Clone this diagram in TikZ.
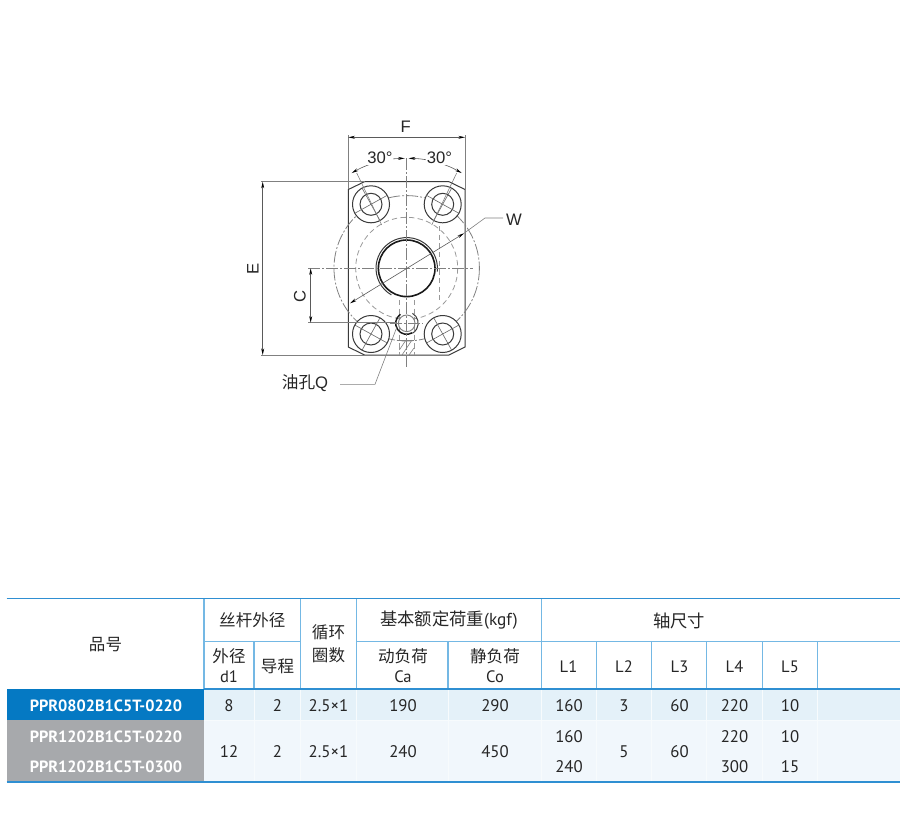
\documentclass[tikz,border=0pt]{standalone}
\usepackage{fontspec}
\setmainfont{PT Sans}
\newfontfamily\cjk{Noto Sans CJK SC}
\newfontfamily\dimfont{Liberation Sans}
\usetikzlibrary{arrows.meta,calc}
\definecolor{linedark}{HTML}{3A3A3A}
\definecolor{linegray}{HTML}{808080}
\definecolor{ruleblue}{HTML}{2F8FD2}
\definecolor{cellblue}{HTML}{0579C3}
\definecolor{cellgray}{HTML}{A7A9AC}
\definecolor{rowone}{HTML}{E4F1F9}
\definecolor{rowtwo}{HTML}{F1F7FC}
\definecolor{sepblue}{HTML}{74B8E4}
\tikzset{
	outline/.style={line width=0.75pt, color=linedark},
	thinline/.style={line width=0.45pt, color=linegray},
	hidden/.style={line width=0.6pt, color=linegray!80, dash pattern=on 4pt off 2.5pt},
	centerline/.style={line width=0.6pt, color=linegray, dash pattern=on 9pt off 1.5pt on 1.5pt off 1.5pt},
	dimline/.style={line width=0.45pt, color=linegray!70!black, {Stealth[length=5pt,width=2.2pt,color=black]}-{Stealth[length=5pt,width=2.2pt,color=black]}},
	dimtext/.style={font=\dimfont\fontsize{12.5}{14}\selectfont, text=black!85},
	headtext/.style={font=\fontsize{12.4}{15}\selectfont, text=black!85, align=center, inner sep=0pt},
	celltext/.style={font=\fontsize{12.6}{15}\selectfont, text=black!85, inner sep=0pt},
	codetext/.style={font=\fontsize{12.2}{15}\selectfont\bfseries, text=white, inner sep=0pt},
	sepline/.style={line width=1pt, color=sepblue},
	faintline/.style={line width=0.6pt, color=white!70!rowone},
}
\def\boltseat(#1,#2)[#3]{
	\draw[outline, fill=white] (#1, #2) circle (18.5);
	\draw[outline] (#1, #2) circle (11);
	\draw[thinline, color=linegray!80!black] ($(#1, #2)+(#3:19)$) -- ($(#1, #2)+(#3+180:19)$);
	\draw[thinline, color=linegray!80!black] ($(#1, #2)+(#3+90:19)$) -- ($(#1, #2)+(#3+270:19)$);
}
\begin{document}
\begin{tikzpicture}[x=0.75pt, y=-0.75pt]
	%%%%% FRAME %%%%%
	\useasboundingbox (0, 0) rectangle (900, 828);

	\coordinate (hub) at (406.7, 268.3);
	\coordinate (oilhole) at (406.7, 323.3);

	%%%%% PLATE %%%%%
	\draw[outline] (364.5, 181.7) -- (449, 181.7) -- (465, 189.5) -- (465, 347) -- (449, 355) -- (364.5, 355) -- (348.3, 347) -- (348.3, 189.5) -- cycle;

	\draw[hidden] (hub) circle (51);
	\draw[centerline] (hub) circle (72.7);
	\draw[hidden] (439.3, 226) -- (439.3, 300);
	\draw[hidden] (399.3, 300) -- (399.3, 355);
	\draw[hidden] (414, 300) -- (414, 355);
	\draw[thinline] (399.3, 340) -- (414, 340);
	\draw[thinline] (399.3, 350) -- (406, 340);
	\draw[thinline] (402, 355) -- (412, 340);
	\draw[thinline] (409, 355) -- (414, 348);

	%%%%% BOLTS %%%%%
	\boltseat(371, 204.3)[-29]
	\boltseat(442.7, 204.3)[29]
	\boltseat(371, 334)[29]
	\boltseat(442.7, 334)[-29]

	%%%%% BORE %%%%%
	\draw[line width=1.2pt, color=black!90, fill=white] (hub) circle (28.3);
	\draw[outline] ($(hub)+(6:30.7)$) arc (6:-240:30.7);

	\draw[thinline, line width=0.7pt, fill=white] (oilhole) circle (8.3);
	\draw[line width=1.1pt, color=black!90] ($(oilhole)+(-125:11)$) arc (-125:-300:11);
	\draw[outline] ($(oilhole)+(-60:11.5)$) arc (-60:60:11.5);

	%%%%% CENTER LINES %%%%%
	\draw[centerline] (406.7, 158) -- (406.7, 367);
	\draw[centerline] (308, 268.3) -- (473, 268.3);
	\draw[centerline] (390, 323.3) -- (423, 323.3);

	%%%%% DIMENSIONS %%%%%
	\coordinate (Fleft) at (348.3, 137.3);
	\coordinate (Fright) at (465, 137.3);
	\coordinate (Etop) at (262.7, 181.7);
	\coordinate (Ebottom) at (262.7, 355);
	\coordinate (Ctop) at (310.7, 268.3);
	\coordinate (Cbottom) at (310.7, 322.7);
	\coordinate (Wlow) at (350, 303.3);
	\coordinate (Whigh) at (464, 233.3);
	\coordinate (Wbend) at (485, 218);
	\coordinate (Wend) at (503, 218);
	\coordinate (oilend) at (396.7, 327.5);
	\coordinate (oilbend) at (375, 384.3);
	\coordinate (oilstart) at (340, 384.3);

	\draw[thinline] (348.3, 135) -- (348.3, 189);
	\draw[thinline] (465, 135) -- (465, 189);
	\draw[thinline] (261, 181.7) -- (364.5, 181.7);
	\draw[thinline] (261, 355) -- (364.5, 355);
	\draw[thinline] (308, 322.7) -- (396, 322.7);
	\draw[thinline] (381.7, 225) -- (356.7, 173);
	\draw[thinline] (431.7, 225) -- (456.7, 173);

	\draw[dimline] (Fleft) -- (Fright);
	\draw[dimline] (Etop) -- (Ebottom);
	\draw[dimline] (Ctop) -- (Cbottom);
	\draw[dimline] (Wlow) -- (Whigh);
	\draw[thinline] (Whigh) -- (Wbend) -- (Wend);
	\draw[thinline] (oilstart) -- (oilbend) -- (oilend);

	\draw[dimline] ($(hub)+(-120:110)$) arc (-120:-91:110);
	\draw[dimline] ($(hub)+(-60:110)$) arc (-60:-89:110);

	\node[dimtext] (labelF) at (405.7, 127) {F};
	\node[dimtext, fill=white, inner sep=0.5pt] (labelleft) at (380, 158) {30°};
	\node[dimtext, fill=white, inner sep=0.5pt] (labelright) at (439.5, 158) {30°};
	\node[dimtext, rotate=90] (labelE) at (253, 269) {E};
	\node[dimtext, rotate=90] (labelC) at (300, 296.7) {C};
	\node[dimtext] (labelW) at (514, 220) {W};
	\node[dimtext] (labeloil) at (305, 383.3) {{\cjk 油孔}Q};

	%%%%% TABLE FILLS %%%%%
	\fill[rowone] (204, 689) rectangle (900, 720);
	\fill[rowtwo] (204, 720) rectangle (900, 781);
	\fill[cellblue] (6.7, 689) rectangle (204, 720);
	\fill[cellgray] (6.7, 720) rectangle (204, 781);

	%%%%% TABLE RULES %%%%%
	\draw[faintline] (204, 720) -- (900, 720);
	\draw[sepline] (204, 598.3) -- (204, 689);
	\draw[sepline] (254, 641.7) -- (254, 689);
	\draw[sepline] (300.7, 598.3) -- (300.7, 689);
	\draw[sepline] (356.7, 598.3) -- (356.7, 689);
	\draw[sepline] (448, 641.7) -- (448, 689);
	\draw[sepline] (541.7, 598.3) -- (541.7, 689);
	\draw[sepline] (596.7, 641.7) -- (596.7, 689);
	\draw[sepline] (651.7, 641.7) -- (651.7, 689);
	\draw[sepline] (706.7, 641.7) -- (706.7, 689);
	\draw[sepline] (762.3, 641.7) -- (762.3, 689);
	\draw[sepline] (817.3, 641.7) -- (817.3, 689);
	\draw[sepline] (204, 641.7) -- (300.7, 641.7);
	\draw[sepline] (356.7, 641.7) -- (900, 641.7);
	\draw[faintline] (254, 689) -- (254, 781);
	\draw[faintline] (300.7, 689) -- (300.7, 781);
	\draw[faintline] (356.7, 689) -- (356.7, 781);
	\draw[faintline] (448, 689) -- (448, 781);
	\draw[faintline] (541.7, 689) -- (541.7, 781);
	\draw[faintline] (596.7, 689) -- (596.7, 781);
	\draw[faintline] (651.7, 689) -- (651.7, 781);
	\draw[faintline] (706.7, 689) -- (706.7, 781);
	\draw[faintline] (762.3, 689) -- (762.3, 781);
	\draw[faintline] (817.3, 689) -- (817.3, 781);
	\draw[line width=1pt, color=ruleblue] (6.7, 598.3) -- (900, 598.3);
	\draw[line width=1pt, color=ruleblue] (204, 689) -- (900, 689);
	\draw[line width=1.5pt, color=ruleblue] (6.7, 781.7) -- (900, 781.7);

	%%%%% TABLE HEAD %%%%%
	\node[headtext] (headmodel) at (105.5, 645) {\cjk 品号};
	\node[headtext] (headscrew) at (252.3, 620.5) {\cjk 丝杆外径};
	\node[headtext] (headdia) at (229, 666) {{\cjk 外径}\\d1};
	\node[headtext] (headlead) at (277.5, 666) {\cjk 导程};
	\node[headtext, font=\fontsize{12.4}{17}\selectfont] (headturns) at (328.5, 644) {\cjk 循环\\\cjk 圈数};
	\node[headtext, font=\fontsize{13}{15}\selectfont] (headload) at (449, 620.5) {{\cjk 基本额定荷重}(kgf)};
	\node[headtext, font=\fontsize{13}{15}\selectfont] (headshaft) at (679, 620.5) {\cjk 轴尺寸};
	\node[headtext] (headdyn) at (403, 666) {{\cjk 动负荷}\\Ca};
	\node[headtext] (headstat) at (495, 666) {{\cjk 静负荷}\\Co};
	\node[headtext] (headLone) at (568.5, 667) {L1};
	\node[headtext] (headLtwo) at (624, 667) {L2};
	\node[headtext] (headLthree) at (679.5, 667) {L3};
	\node[headtext] (headLfour) at (734.5, 667) {L4};
	\node[headtext] (headLfive) at (790, 667) {L5};

	%%%%% TABLE BODY %%%%%
	\node[codetext] (codea) at (106, 706) {PPR0802B1C5T-0220};
	\node[codetext] (codeb) at (106, 736.5) {PPR1202B1C5T-0220};
	\node[codetext] (codec) at (106, 766.5) {PPR1202B1C5T-0300};

	\node[celltext] (adia) at (229, 706) {8};
	\node[celltext] (alead) at (277.5, 706) {2};
	\node[celltext] (aturns) at (328.5, 706) {2.5×1};
	\node[celltext] (adyn) at (403, 706) {190};
	\node[celltext] (astat) at (495, 706) {290};
	\node[celltext] (aLone) at (569, 706) {160};
	\node[celltext] (aLtwo) at (624, 706) {3};
	\node[celltext] (aLthree) at (679.5, 706) {60};
	\node[celltext] (aLfour) at (734.5, 706) {220};
	\node[celltext] (aLfive) at (790, 706) {10};

	\node[celltext] (bdia) at (229, 751.5) {12};
	\node[celltext] (blead) at (277.5, 751.5) {2};
	\node[celltext] (bturns) at (328.5, 751.5) {2.5×1};
	\node[celltext] (bdyn) at (403, 751.5) {240};
	\node[celltext] (bstat) at (495, 751.5) {450};
	\node[celltext] (bLone) at (569, 736.5) {160};
	\node[celltext] (cLone) at (569, 766.5) {240};
	\node[celltext] (bLtwo) at (624, 751.5) {5};
	\node[celltext] (bLthree) at (679.5, 751.5) {60};
	\node[celltext] (bLfour) at (734.5, 736.5) {220};
	\node[celltext] (cLfour) at (734.5, 766.5) {300};
	\node[celltext] (bLfive) at (790, 736.5) {10};
	\node[celltext] (cLfive) at (790, 766.5) {15};
\end{tikzpicture}
\end{document}
